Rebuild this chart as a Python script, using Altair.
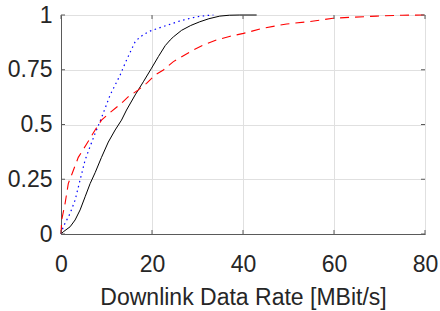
import altair as alt
import pandas as pd

# ---- data (x = rate in MBit/s, p = CDF) ----
black_x = [0, 0.5, 2.0, 3.1, 4.2, 5.3, 6.4, 7.5, 8.9, 10.4, 11.9, 13.3, 14.4, 16.3,
           18.1, 19.9, 21.4, 22.9, 24.0, 24.7, 26.5, 28.5, 30.5, 32.5, 34.9, 37.0, 39.3, 43.0]
black_p = [0, 0.01, 0.033, 0.064, 0.11, 0.17, 0.23, 0.28, 0.35, 0.42, 0.475, 0.52, 0.566, 0.635,
           0.695, 0.757, 0.81, 0.86, 0.886, 0.90, 0.93, 0.952, 0.969, 0.983, 0.995, 0.999, 1.0, 1.0]

blue_x = [0, 0.5, 2.0, 3.1, 4.2, 5.3, 6.4, 7.5, 8.6, 9.7, 10.8, 11.9, 13.0, 14.1, 15.2,
          16.3, 17.4, 19.2, 21.4, 23.6, 26.0, 28.4, 30.5, 32.7, 33.5]
blue_p = [0, 0.033, 0.094, 0.155, 0.247, 0.338, 0.40, 0.46, 0.515, 0.574, 0.635, 0.68, 0.726, 0.78, 0.83,
          0.878, 0.90, 0.924, 0.94, 0.955, 0.972, 0.985, 0.994, 0.999, 1.0]

red_x = [0, 0.15, 0.9, 1.6, 2.7, 3.8, 5.6, 7.5, 8.9, 11.1, 13.3, 14.8, 17.0, 18.8, 20.7,
         22.5, 24.7, 27.0, 29.1, 31.3, 34.2, 37.0, 40.1, 44.5, 49.6, 54.7, 59.8, 64.2, 69.4, 75.0, 80.0]
red_p = [0, 0.064, 0.14, 0.23, 0.29, 0.35, 0.41, 0.475, 0.52, 0.56, 0.597, 0.627, 0.658, 0.688, 0.726,
         0.749, 0.787, 0.815, 0.84, 0.863, 0.886, 0.902, 0.916, 0.94, 0.959, 0.97, 0.985, 0.99, 0.995, 0.999, 1.0]

x_ticks = [0, 20, 40, 60, 80]
y_ticks = [0, 0.25, 0.5, 0.75, 1]
x_title = "Downlink Data Rate [MBit/s]"

FONT = "Liberation Sans"
TEXT = "#262626"
BOX = "#5a5a5a"
GRID = "#e0e0e0"

def frame(xs, ps):
    return pd.DataFrame({"rate": xs, "cdf": ps})

xscale = alt.Scale(domain=[0, 80], nice=False, zero=False)
yscale = alt.Scale(domain=[0, 1], nice=False)

xaxis = alt.Axis(values=x_ticks, title=x_title, ticks=False,
                 domain=True, domainColor=BOX, domainWidth=1,
                 labelPadding=19, labelFlush=False, labelOverlap=False,
                 labelExpr="'' + datum.value",
                 grid=True, gridColor=GRID, gridWidth=1,
                 titleY=70, titleBaseline="alphabetic")
yaxis = alt.Axis(values=y_ticks, title="", ticks=False,
                 domain=True, domainColor=BOX, domainWidth=1,
                 labelPadding=9, labelFlush=False, labelOverlap=False,
                 labelExpr="'' + datum.value",
                 grid=True, gridColor=GRID, gridWidth=1)

X = alt.X("rate:Q", scale=xscale, axis=xaxis)
Y = alt.Y("cdf:Q", scale=yscale, axis=yaxis)

black = alt.Chart(frame(black_x, black_p)).mark_line(color="black", strokeWidth=1).encode(x=X, y=Y)
blue = alt.Chart(frame(blue_x, blue_p)).mark_line(color="#0000ff", strokeWidth=1.2,
                                                    strokeDash=[1.5, 3.5]).encode(x=X, y=Y)
red = alt.Chart(frame(red_x, red_p)).mark_line(color="#ff0000", strokeWidth=1.1,
                                                 strokeDash=[9, 6]).encode(x=X, y=Y)

xt = pd.DataFrame({"rate": x_ticks})
yt = pd.DataFrame({"cdf": y_ticks})
tick_bottom = alt.Chart(xt).mark_rule(color=BOX, strokeWidth=1).encode(
    x=X, y=alt.value(219), y2=alt.value(215))
tick_top = alt.Chart(xt).mark_rule(color=BOX, strokeWidth=1).encode(
    x=X, y=alt.value(0), y2=alt.value(4))
tick_left = alt.Chart(yt).mark_rule(color=BOX, strokeWidth=1).encode(
    y=Y, x=alt.value(0), x2=alt.value(4))
tick_right = alt.Chart(yt).mark_rule(color=BOX, strokeWidth=1).encode(
    y=Y, x=alt.value(364), x2=alt.value(360))

chart = alt.layer(black, blue, red, tick_bottom, tick_top, tick_left, tick_right).properties(
    width=364, height=219,
    autosize=alt.AutoSizeParams(type="none"),
    padding={"left": 61, "top": 15, "right": 15, "bottom": 77},
    background="white",
).configure_view(
    stroke=BOX, strokeWidth=1
).configure_axis(
    labelFont=FONT, titleFont=FONT, labelFontSize=23, titleFontSize=23,
    labelColor=TEXT, titleColor=TEXT, titleFontWeight="normal"
)

chart.save("out.html", embed_options={"renderer": "svg", "actions": False})
